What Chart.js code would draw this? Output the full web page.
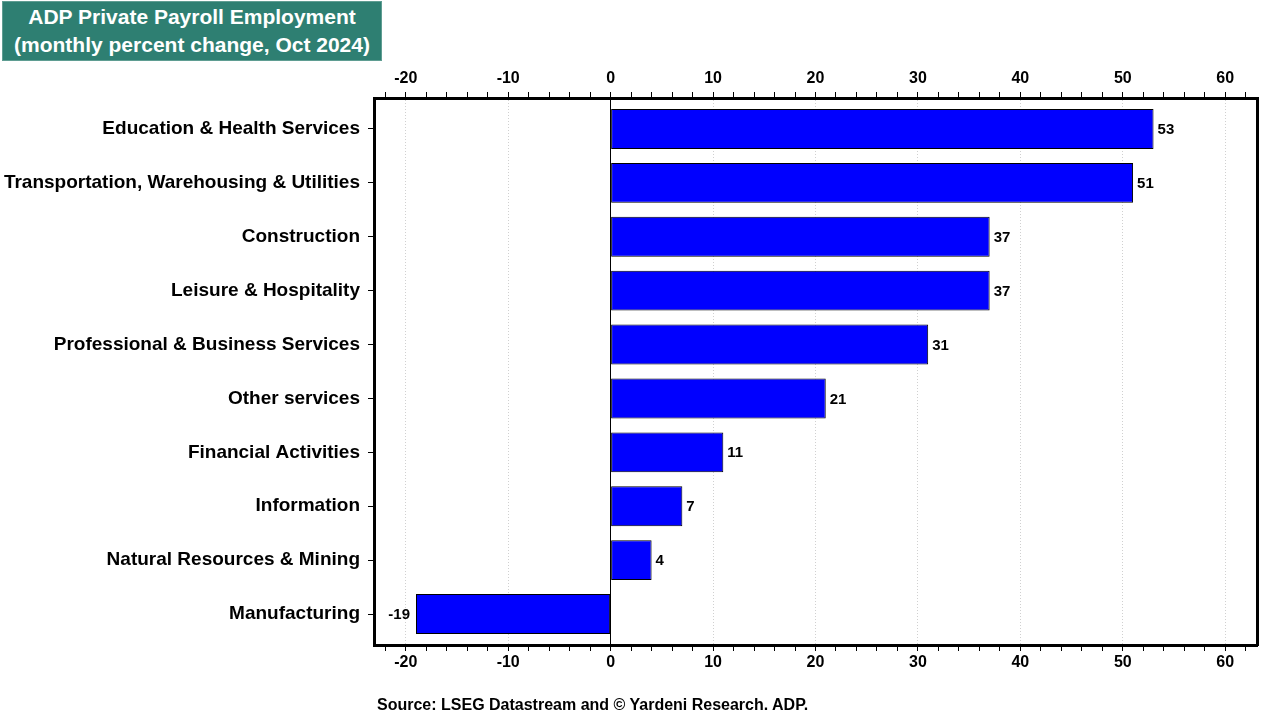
<!DOCTYPE html>
<html>
<head>
<meta charset="utf-8">
<title>ADP Private Payroll Employment</title>
<script src="https://cdn.jsdelivr.net/npm/chart.js@4.4.1/dist/chart.umd.min.js"></script>
<style>
  body { margin: 0; background: #fff; }
  #wrap { position: relative; width: 1280px; height: 720px; font-family: "Liberation Sans", Arial, sans-serif; }
  #title {
    position: absolute; left: 2px; top: 1px; width: 380px; height: 60px;
    background: #2e7f72; color: #fff; font-weight: bold; font-size: 21px;
    line-height: 28px; text-align: center; box-sizing: border-box; padding-top: 1px;
    border: 1px solid #5f9d92; white-space: nowrap;
  }
  #source { position: absolute; left: 377px; top: 696px; font-size: 16px; font-weight: bold; color: #000; }
</style>
</head>
<body>
<div id="wrap">
  <canvas id="chart" width="1280" height="720"></canvas>
  <div id="title">ADP Private Payroll Employment<br>(monthly percent change, Oct 2024)</div>
  <div id="source">Source: LSEG Datastream and © Yardeni Research. ADP.</div>
</div>
<script>
// data //
const categories = [
  'Education & Health Services',
  'Transportation, Warehousing & Utilities',
  'Construction',
  'Leisure & Hospitality',
  'Professional & Business Services',
  'Other services',
  'Financial Activities',
  'Information',
  'Natural Resources & Mining',
  'Manufacturing'
];
const changes = [53, 51, 37, 37, 31, 21, 11, 7, 4, -19];

const axisMin = -23.1;
const axisMax = 63.1;
const rowMin = -0.575;
const rowMax = 9.575;

const fontFamily = '"Liberation Sans", Arial, sans-serif';

// value labels next to each bar //
const barLabels = {
  id: 'barLabels',
  afterDatasetsDraw(chart) {
    const ctx = chart.ctx;
    const meta = chart.getDatasetMeta(0);
    ctx.save();
    ctx.font = 'bold 15px ' + fontFamily;
    ctx.fillStyle = '#000';
    ctx.textBaseline = 'middle';
    meta.data.forEach(function(bar, i) {
      const v = changes[i];
      if (v >= 0) {
        ctx.textAlign = 'left';
        ctx.fillText(v, bar.x + 4, bar.y + 1);
      } else {
        ctx.textAlign = 'right';
        ctx.fillText(v, bar.x - 6, bar.y + 1);
      }
    });
    ctx.restore();
  }
};

function tickLabel(v) {
  return v % 10 === 0 ? v : '';
}

new Chart(document.getElementById('chart'), {
  type: 'bar',
  data: {
    datasets: [{
      data: changes.map(function(v, i) { return { x: v, y: i }; }),
      backgroundColor: '#0000ff',
      borderColor: '#000',
      borderWidth: 1,
      borderSkipped: false,
      categoryPercentage: 1,
      barPercentage: 0.74,
      xAxisID: 'x',
      yAxisID: 'y'
    }]
  },
  options: {
    indexAxis: 'y',
    responsive: false,
    animation: false,
    layout: { padding: { left: 0, right: 23, top: 0, bottom: 0 } },
    plugins: {
      legend: { display: false },
      tooltip: { enabled: false }
    },
    scales: {
      x: {
        position: 'top',
        min: axisMin,
        max: axisMax,
        afterFit: function(scale) { scale.height = 98; },
        ticks: {
          stepSize: 2,
          includeBounds: false,
          autoSkip: false,
          maxRotation: 0,
          padding: 4,
          color: '#000',
          font: { family: fontFamily, size: 16, weight: 'bold' },
          callback: tickLabel
        },
        grid: {
          tickLength: 6,
          tickColor: '#000',
          lineWidth: 1,
          color: function(c) {
            const v = c.tick ? c.tick.value : null;
            return (v !== null && v % 10 === 0 && v !== 0) ? '#d0d0d0' : 'rgba(0,0,0,0)';
          }
        },
        border: { display: true, color: '#000', width: 3, dash: [1, 2] }
      },
      x2: {
        position: 'bottom',
        min: axisMin,
        max: axisMax,
        afterFit: function(scale) { scale.height = 75; },
        ticks: {
          stepSize: 2,
          includeBounds: false,
          autoSkip: false,
          maxRotation: 0,
          padding: 2,
          color: '#000',
          font: { family: fontFamily, size: 16, weight: 'bold' },
          callback: tickLabel
        },
        grid: {
          tickLength: 6,
          tickColor: '#000',
          lineWidth: 1,
          color: function(c) {
            return (c.tick && c.tick.value === 0) ? '#000' : 'rgba(0,0,0,0)';
          }
        },
        border: { display: true, color: '#000', width: 3 }
      },
      y: {
        type: 'linear',
        position: 'left',
        reverse: true,
        offset: false,
        min: rowMin,
        max: rowMax,
        afterFit: function(scale) { scale.width = 374; },
        ticks: {
          stepSize: 1,
          includeBounds: false,
          autoSkip: false,
          padding: 8,
          color: '#000',
          font: { family: fontFamily, size: 19, weight: 'bold' },
          callback: function(v) { return categories[v] || ''; }
        },
        grid: {
          offset: false,
          drawOnChartArea: false,
          tickLength: 6,
          tickColor: '#000'
        },
        border: { display: true, color: '#000', width: 3 }
      },
      y2: {
        type: 'linear',
        position: 'right',
        offset: false,
        min: rowMin,
        max: rowMax,
        afterFit: function(scale) { scale.width = 0; },
        ticks: { display: false },
        grid: { offset: false, drawOnChartArea: false, drawTicks: false, tickLength: 0 },
        border: { display: true, color: '#000', width: 3 }
      }
    }
  },
  plugins: [barLabels]
});
</script>
</body>
</html>
